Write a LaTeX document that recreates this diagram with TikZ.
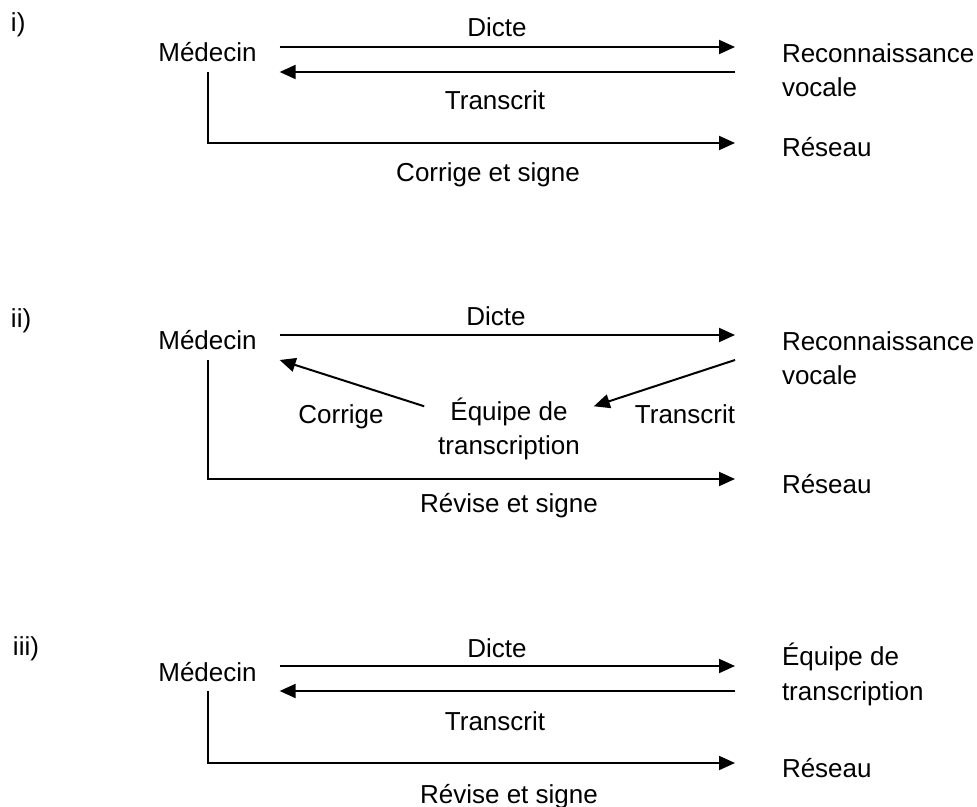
\documentclass[tikz,border=0pt]{standalone}
\usepackage{fontspec}
\setmainfont{Liberation Sans}
\usetikzlibrary{arrows.meta}

\begin{document}
\begin{tikzpicture}[x=0.02cm,y=-0.02cm,line width=0.04cm,
		every node/.style={font=\fontsize{14.8pt}{19.6pt}\selectfont,inner sep=0pt},
		flux/.style={-{Triangle[length=0.32cm,width=0.28cm]}},
		medecin/.style={anchor=base,text height=0.6cm,text depth=0pt,inner xsep=0.44cm,inner ysep=0.18cm},
		cible/.style={anchor=base west,align=left,inner xsep=0.92cm},
		reseau/.style={cible,text height=0.56cm,text depth=0pt},
		equipe/.style={align=center,inner xsep=0.26cm},
		lbl/.style={anchor=base}]
		\useasboundingbox (0,0) rectangle (977,807);
		% i) reconnaissance vocale seule
		\begin{scope}
		\node[anchor=base west] (num1) at (10,32) {i)};
		\node[medecin] (med1) at (207.5,62) {Médecin};
		\node[cible] (reco1) at (735,97) {Reconnaissance\\vocale};
		\node[reseau] (res1) at (735,157) {Réseau};
		\draw[flux] (med1.east) -- (med1.east -| reco1.west);
		\draw[flux] (med1.south east -| reco1.west) -- (med1.south east);
		\draw[flux] (med1.south) |- (res1.west);
		\node[lbl] (dicte1) at (497,37) {Dicte};
		\node[lbl] (trans1) at (495,110) {Transcrit};
		\node[lbl] (signe1) at (488,182) {Corrige et signe};
		\end{scope}
		% ii) avec equipe de transcription
		\begin{scope}
		\node[anchor=base west] (num2) at (10,328) {ii)};
		\node[medecin] (med2) at (207.5,350) {Médecin};
		\node[cible] (reco2) at (735,385) {Reconnaissance\\vocale};
		\node[reseau] (res2) at (735,493) {Réseau};
		\node[equipe] (equ2) at (509,429) {Équipe de\\transcription};
		\draw[flux] (med2.east) -- (med2.east -| reco2.west);
		\draw[flux] (reco2.west |- med2.south) -- (equ2.15);
		\draw[flux] (equ2.165) -- (med2.south east);
		\draw[flux] (med2.south) |- (res2.west);
		\node[lbl] (dicte2) at (496,326) {Dicte};
		\node[lbl] (corr2) at (341,423) {Corrige};
		\node[lbl] (trans2) at (685,423) {Transcrit};
		\node[lbl] (signe2) at (509,512) {Révise et signe};
		\end{scope}
		% iii) transcription classique
		\begin{scope}
		\node[anchor=base west] (num3) at (12,655) {iii)};
		\node[medecin] (med3) at (207.5,681) {Médecin};
		\node[cible] (equ3) at (735,700) {Équipe de\\transcription};
		\node[reseau] (res3) at (735,777) {Réseau};
		\draw[flux] (med3.east) -- (med3.east -| equ3.west);
		\draw[flux] (med3.south east -| equ3.west) -- (med3.south east);
		\draw[flux] (med3.south) |- (res3.west);
		\node[lbl] (dicte3) at (497,657) {Dicte};
		\node[lbl] (trans3) at (495,730) {Transcrit};
		\node[lbl] (signe3) at (509,803) {Révise et signe};
		\end{scope}
\end{tikzpicture}
\end{document}
